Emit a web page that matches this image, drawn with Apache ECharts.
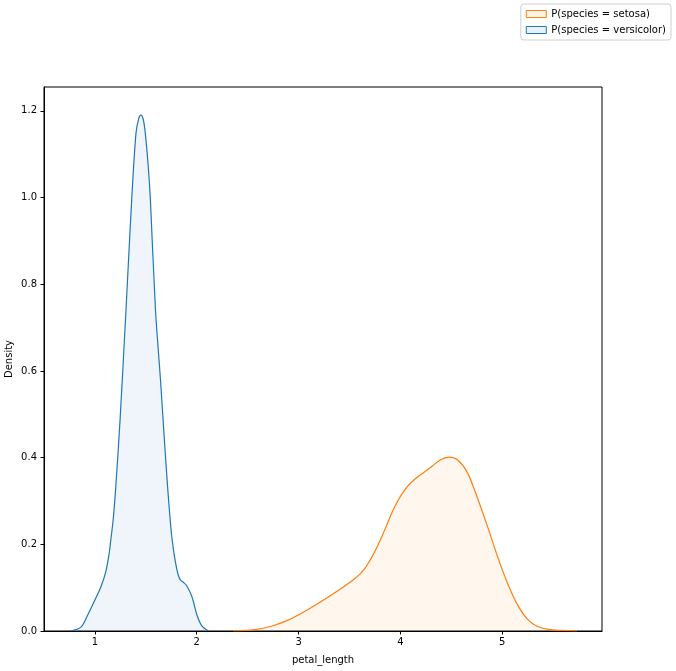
<!DOCTYPE html>
<html>
<head>
<meta charset="utf-8">
<script src="https://cdn.jsdelivr.net/npm/echarts@6/dist/echarts.min.js"></script>
<style>html,body{margin:0;padding:0;background:#fff}#c{width:676px;height:671px}</style>
</head>
<body>
<div id="c"></div>
<script>
var seriesNames = ['P(species = setosa)', 'P(species = versicolor)'];
var xTicks = [1, 2, 3, 4, 5];
var yTicks = [0, 0.2, 0.4, 0.6, 0.8, 1.0, 1.2];

var blueX = [0.76, 0.863, 0.929, 0.993, 1.059, 1.107, 1.14, 1.156, 1.179, 1.205, 1.247, 1.305, 1.361, 1.403, 1.43, 1.452, 1.475, 1.495, 1.524, 1.545, 1.595, 1.644, 1.676, 1.709, 1.748, 1.77, 1.79, 1.815, 1.839, 1.87, 1.90, 1.953, 2.002, 2.05, 2.115];
var blueY = [0, 0.009, 0.037, 0.068, 0.102, 0.137, 0.179, 0.21, 0.256, 0.333, 0.487, 0.740, 0.994, 1.148, 1.182, 1.19, 1.18, 1.148, 1.071, 0.994, 0.740, 0.579, 0.464, 0.348, 0.233, 0.19, 0.16, 0.132, 0.118, 0.112, 0.105, 0.079, 0.037, 0.012, 0];

var orangeX = [2.357, 2.569, 2.732, 2.896, 3.059, 3.222, 3.385, 3.548, 3.646, 3.744, 3.842, 3.94, 4.037, 4.135, 4.266, 4.396, 4.478, 4.56, 4.657, 4.755, 4.853, 4.951, 5.049, 5.147, 5.245, 5.343, 5.473, 5.734];
var orangeY = [0, 0.003, 0.011, 0.025, 0.045, 0.068, 0.093, 0.12, 0.143, 0.181, 0.231, 0.285, 0.324, 0.349, 0.372, 0.395, 0.401, 0.395, 0.366, 0.308, 0.243, 0.174, 0.112, 0.062, 0.028, 0.011, 0.003, 0];

function pairs(xs, ys) { return xs.map(function (x, i) { return [x, ys[i]]; }); }

var FONT = 'DejaVu Sans';
var chart = echarts.init(document.getElementById('c'), null, {renderer: 'canvas'});
chart.setOption({
  animation: false,
  backgroundColor: '#fff',
  textStyle: {fontFamily: FONT},
  grid: {left: 44, top: 87, right: 74, bottom: 40, containLabel: false, outerBoundsMode: 'none',
    show: true, borderColor: '#000', borderWidth: 1, backgroundColor: 'transparent'},
  legend: {
    orient: 'vertical', right: 5, top: 4,
    padding: [4, 5, 4, 5],
    itemWidth: 20, itemHeight: 7, itemGap: 4,
    borderColor: '#d0d0d0', borderWidth: 1, borderRadius: 3,
    textStyle: {fontFamily: FONT, fontSize: 10, color: '#000', lineHeight: 12},
    data: [
      {name: seriesNames[0], icon: 'rect', itemStyle: {color: 'rgba(255,127,14,0.1)', borderColor: '#ff7f0e', borderWidth: 1}},
      {name: seriesNames[1], icon: 'rect', itemStyle: {color: 'rgba(31,119,180,0.1)', borderColor: '#1f77b4', borderWidth: 1}}
    ]
  },
  xAxis: {
    type: 'value', min: 0.5, max: 5.98,
    name: 'petal_length', nameLocation: 'middle', nameGap: 24, nameMoveOverlap: false,
    nameTextStyle: {fontFamily: FONT, fontSize: 10, color: '#000'},
    axisLine: {show: true, lineStyle: {color: '#000', width: 1}},
    axisTick: {show: true, length: 3.5, lineStyle: {color: '#000'}, customValues: xTicks},
    axisLabel: {fontFamily: FONT, fontSize: 10, color: '#000', margin: 6, customValues: xTicks},
    splitLine: {show: false}
  },
  yAxis: {
    type: 'value', min: 0, max: 1.255,
    name: 'Density', nameLocation: 'middle', nameGap: 30, nameRotate: 90, nameMoveOverlap: false,
    nameTextStyle: {fontFamily: FONT, fontSize: 10, color: '#000'},
    axisLine: {show: true, lineStyle: {color: '#000', width: 1}},
    axisTick: {show: true, length: 3.5, lineStyle: {color: '#000'}, customValues: yTicks},
    axisLabel: {fontFamily: FONT, fontSize: 10, color: '#000', margin: 7, customValues: yTicks,
      formatter: function (v) { return v.toFixed(1); }},
    splitLine: {show: false}
  },
  series: [
    {
      name: seriesNames[0], type: 'line', data: pairs(orangeX, orangeY),
      smooth: 0.3, showSymbol: false, symbol: 'none',
      lineStyle: {color: '#ff7f0e', width: 1.2},
      itemStyle: {color: '#ff7f0e'},
      areaStyle: {color: 'rgba(255,127,14,0.1)', origin: 'start'}
    },
    {
      name: seriesNames[1], type: 'line', data: pairs(blueX, blueY),
      smooth: 0.3, showSymbol: false, symbol: 'none',
      lineStyle: {color: '#1f77b4', width: 1.2},
      itemStyle: {color: '#1f77b4'},
      areaStyle: {color: 'rgba(31,119,180,0.1)', origin: 'start'}
    }
  ]
});
</script>
</body>
</html>
